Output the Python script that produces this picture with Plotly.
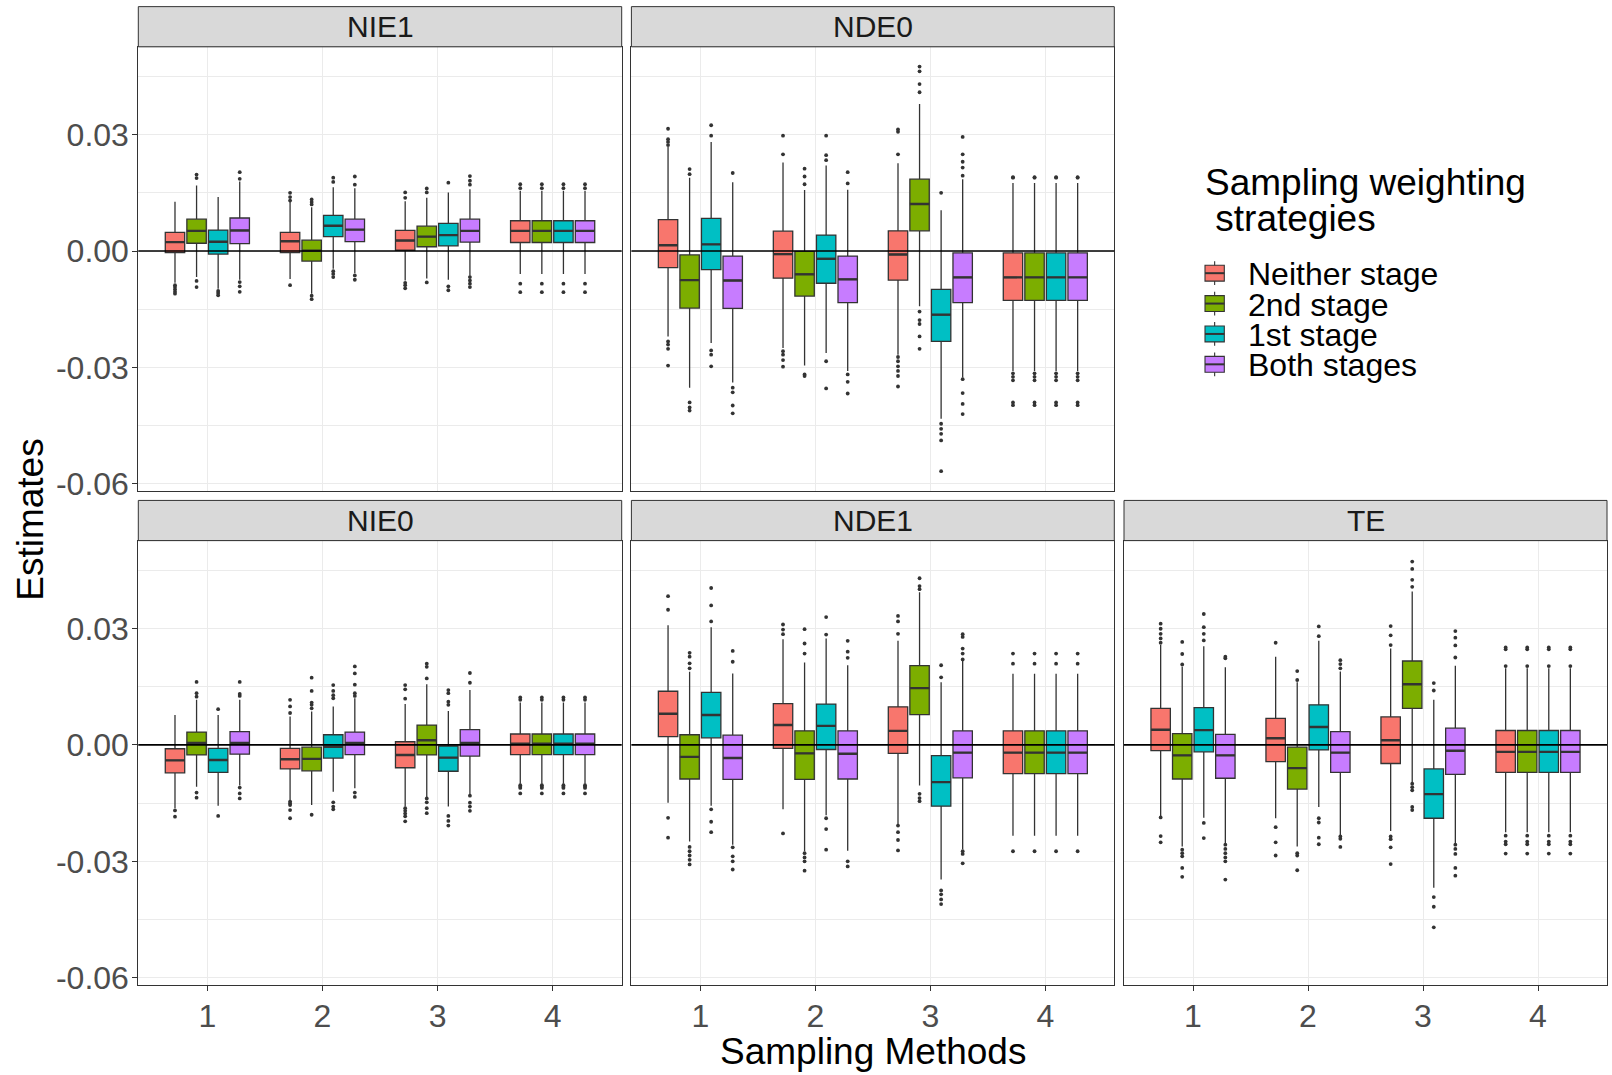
import plotly.graph_objects as go

W, H = 1612, 1075
FONT = "Liberation Sans, Arial, Helvetica, sans-serif"

# ---------------- categories / ticks ----------------
methods = [1, 2, 3, 4]
x_tick_text = ["1", "2", "3", "4"]
strategies = ["Neither stage", "2nd stage", "1st stage", "Both stages"]
fill_colors = ["#F8766D", "#7CAE00", "#00BFC4", "#C77CFF"]
effects = ["NIE1", "NDE0", "NIE0", "NDE1", "TE"]
y_tick_vals = [-0.06, -0.03, 0.00, 0.03]
y_tick_text = ["-0.06", "-0.03", "0.00", "0.03"]
y_minor_vals = [-0.045, -0.015, 0.015, 0.045]

# ---------------- data: rows = strategies, columns = methods 1..4 ----------------
# NIE1
NIE1_q1 = [[-0.0004, -0.0004, 0.0002, 0.0022], [0.0020, -0.0026, 0.0011, 0.0022],
           [-0.0008, 0.0037, 0.0013, 0.0022], [0.0019, 0.0024, 0.0023, 0.0022]]
NIE1_med = [[0.0023, 0.0025, 0.0027, 0.0052], [0.0052, 0.0001, 0.0037, 0.0052],
            [0.0024, 0.0065, 0.0041, 0.0052], [0.0053, 0.0055, 0.0052, 0.0052]]
NIE1_q3 = [[0.0048, 0.0048, 0.0053, 0.0078], [0.0082, 0.0028, 0.0064, 0.0078],
           [0.0054, 0.0092, 0.0071, 0.0078], [0.0085, 0.0082, 0.0082, 0.0078]]
NIE1_lo = [[-0.0082, -0.0072, -0.0076, -0.0059], [-0.0067, -0.0110, -0.0071, -0.0059],
           [-0.0097, -0.0046, -0.0074, -0.0059], [-0.0074, -0.0057, -0.0064, -0.0059]]
NIE1_hi = [[0.0127, 0.0127, 0.0128, 0.0155], [0.0169, 0.0113, 0.0137, 0.0155],
           [0.0139, 0.0164, 0.0151, 0.0155], [0.0179, 0.0162, 0.0159, 0.0155]]
NIE1_out = [
    [[-0.0088, -0.0093, -0.0099, -0.0105, -0.0110], [0.0130, 0.0139, 0.0150, -0.0088],
     [0.0137, 0.0151, -0.0082, -0.0088, -0.0096], [0.0162, 0.0172, -0.0084, -0.0106]],
    [[0.0188, 0.0197, -0.0077, -0.0093], [0.0120, 0.0126, 0.0133, -0.0115, -0.0124],
     [0.0151, 0.0161, -0.0081], [0.0162, 0.0172, -0.0084, -0.0106]],
    [[-0.0103, -0.0108, -0.0114], [0.0178, 0.0189, -0.0052, -0.0059, -0.0067],
     [0.0176, -0.0091, -0.0101], [0.0162, 0.0172, -0.0084, -0.0106]],
    [[0.0186, 0.0203, -0.0080, -0.0091, -0.0105], [0.0171, 0.0192, -0.0063, -0.0074],
     [0.0171, 0.0181, 0.0193, -0.0067, -0.0076, -0.0084, -0.0093], [0.0162, 0.0172, -0.0084, -0.0106]],
]

# NDE0
NDE0_q1 = [[-0.0043, -0.0070, -0.0075, -0.0127], [-0.0147, -0.0116, 0.0052, -0.0127],
           [-0.0048, -0.0083, -0.0233, -0.0127], [-0.0148, -0.0133, -0.0133, -0.0127]]
NDE0_med = [[0.0015, -0.0008, -0.0009, -0.0068], [-0.0075, -0.0060, 0.0121, -0.0068],
            [0.0017, -0.0020, -0.0164, -0.0068], [-0.0076, -0.0073, -0.0068, -0.0068]]
NDE0_q3 = [[0.0081, 0.0051, 0.0052, -0.0005], [-0.0010, -0.0001, 0.0185, -0.0005],
           [0.0084, 0.0041, -0.0099, -0.0005], [-0.0013, -0.0013, -0.0005, -0.0005]]
NDE0_lo = [[-0.0220, -0.0250, -0.0267, -0.0309], [-0.0352, -0.0295, -0.0142, -0.0309],
           [-0.0237, -0.0263, -0.0432, -0.0309], [-0.0339, -0.0309, -0.0326, -0.0309]]
NDE0_hi = [[0.0268, 0.0228, 0.0226, 0.0175], [0.0189, 0.0157, 0.0379, 0.0175],
           [0.0281, 0.0220, 0.0105, 0.0175], [0.0177, 0.0158, 0.0185, 0.0175]]
NDE0_out = [
    [[0.0273, 0.0281, 0.0288, 0.0315, -0.0233, -0.0241, -0.0252, -0.0295],
     [0.0249, 0.0297, -0.0258, -0.0267, -0.0281, -0.0298],
     [0.0249, 0.0307, 0.0313, -0.0273, -0.0284, -0.0297, -0.0309, -0.0322, -0.0349],
     [0.0189, 0.0190, -0.0315, -0.0324, -0.0333, -0.0390, -0.0397]],
    [[0.0198, 0.0211, -0.0390, -0.0403, -0.0411], [0.0172, 0.0192, 0.0212, -0.0318, -0.0322],
     [0.0409, 0.0430, 0.0463, 0.0475, -0.0156, -0.0178, -0.0188, -0.0220, -0.0252],
     [0.0189, 0.0190, -0.0315, -0.0324, -0.0333, -0.0390, -0.0397]],
    [[0.0297, 0.0324, -0.0256, -0.0267, -0.0297], [0.0234, 0.0247, 0.0297, -0.0284, -0.0354],
     [0.0150, -0.0445, -0.0458, -0.0471, -0.0488, -0.0567],
     [0.0189, 0.0190, -0.0315, -0.0324, -0.0333, -0.0390, -0.0397]],
    [[0.0201, -0.0352, -0.0364, -0.0398, -0.0418], [0.0174, 0.0203, -0.0318, -0.0337, -0.0367],
     [0.0194, 0.0215, 0.0230, 0.0249, 0.0294, -0.0330, -0.0366, -0.0394, -0.0420],
     [0.0189, 0.0190, -0.0315, -0.0324, -0.0333, -0.0390, -0.0397]],
]

# NIE0
NIE0_q1 = [[-0.0072, -0.0062, -0.0059, -0.0025], [-0.0026, -0.0067, -0.0026, -0.0025],
           [-0.0071, -0.0034, -0.0068, -0.0025], [-0.0024, -0.0025, -0.0029, -0.0025]]
NIE0_med = [[-0.0040, -0.0037, -0.0026, 0.0003], [0.0005, -0.0036, 0.0012, 0.0003],
            [-0.0039, -0.0005, -0.0033, 0.0003], [0.0005, 0.0005, 0.0005, 0.0003]]
NIE0_q3 = [[-0.0010, -0.0009, 0.0008, 0.0028], [0.0033, -0.0006, 0.0051, 0.0028],
           [-0.0009, 0.0026, -0.0003, 0.0028], [0.0034, 0.0033, 0.0039, 0.0028]]
NIE0_lo = [[-0.0163, -0.0142, -0.0159, -0.0100], [-0.0108, -0.0155, -0.0134, -0.0100],
           [-0.0157, -0.0121, -0.0159, -0.0100], [-0.0105, -0.0112, -0.0129, -0.0100]]
NIE0_hi = [[0.0077, 0.0073, 0.0105, 0.0109], [0.0116, 0.0086, 0.0156, 0.0109],
           [0.0077, 0.0099, 0.0087, 0.0109], [0.0116, 0.0120, 0.0141, 0.0109]]
NIE0_out = [
    [[-0.0169, -0.0185], [0.0082, 0.0099, 0.0116, -0.0146, -0.0151, -0.0155, -0.0168, -0.0189],
     [0.0119, 0.0143, 0.0154, -0.0163, -0.0170, -0.0177, -0.0184, -0.0197],
     [0.0116, 0.0122, -0.0104, -0.0108, -0.0111, -0.0125]],
    [[0.0124, 0.0133, 0.0162, -0.0123, -0.0136], [0.0094, 0.0103, 0.0109, 0.0139, 0.0173, -0.0180],
     [0.0171, 0.0201, 0.0209, -0.0138, -0.0148, -0.0163, -0.0176],
     [0.0116, 0.0122, -0.0104, -0.0108, -0.0111, -0.0125]],
    [[0.0092, -0.0183], [0.0120, 0.0128, 0.0139, 0.0154, -0.0148, -0.0159, -0.0166],
     [0.0103, 0.0111, 0.0133, 0.0141, -0.0183, -0.0196, -0.0208],
     [0.0116, 0.0122, -0.0104, -0.0108, -0.0111, -0.0125]],
    [[0.0126, 0.0131, 0.0162, -0.0110, -0.0125, -0.0138],
     [0.0126, 0.0133, 0.0155, 0.0184, 0.0202, -0.0123, -0.0134],
     [0.0160, 0.0185, -0.0131, -0.0149, -0.0159, -0.0170],
     [0.0116, 0.0122, -0.0104, -0.0108, -0.0111, -0.0125]],
]

# NDE1
NDE1_q1 = [[0.0021, -0.0009, -0.0022, -0.0074], [-0.0088, -0.0089, 0.0078, -0.0074],
           [0.0018, -0.0012, -0.0158, -0.0074], [-0.0089, -0.0088, -0.0085, -0.0074]]
NDE1_med = [[0.0080, 0.0051, 0.0036, -0.0020], [-0.0031, -0.0022, 0.0146, -0.0020],
            [0.0077, 0.0049, -0.0096, -0.0020], [-0.0034, -0.0023, -0.0020, -0.0020]]
NDE1_q3 = [[0.0138, 0.0106, 0.0098, 0.0036], [0.0026, 0.0036, 0.0204, 0.0036],
           [0.0135, 0.0105, -0.0028, 0.0036], [0.0025, 0.0036, 0.0036, 0.0036]]
NDE1_lo = [[-0.0149, -0.0166, -0.0206, -0.0234], [-0.0249, -0.0274, -0.0105, -0.0234],
           [-0.0157, -0.0181, -0.0347, -0.0234], [-0.0257, -0.0273, -0.0269, -0.0234]]
NDE1_hi = [[0.0308, 0.0272, 0.0268, 0.0183], [0.0188, 0.0212, 0.0393, 0.0183],
           [0.0303, 0.0274, 0.0161, 0.0183], [0.0184, 0.0205, 0.0217, 0.0183]]
NDE1_out = [
    [[0.0348, 0.0383, -0.0188, -0.0239], [0.0285, 0.0297, 0.0310, -0.0228],
     [0.0286, 0.0318, 0.0332, -0.0208, -0.0225, -0.0245, -0.0272], [0.0209, 0.0235, -0.0274]],
    [[0.0197, 0.0210, 0.0227, 0.0237, -0.0263, -0.0274, -0.0285, -0.0296, -0.0308],
     [0.0235, 0.0261, 0.0298, -0.0279, -0.0290, -0.0300, -0.0324],
     [0.0401, 0.0409, 0.0429, -0.0126, -0.0137, -0.0145], [0.0209, 0.0235, -0.0274]],
    [[0.0318, 0.0359, 0.0404, -0.0166, -0.0198, -0.0225], [0.0284, 0.0329, -0.0189, -0.0217, -0.0270],
     [0.0174, 0.0205, -0.0375, -0.0385, -0.0398, -0.0410], [0.0209, 0.0235, -0.0274]],
    [[0.0214, 0.0242, -0.0264, -0.0287, -0.0300, -0.0321], [0.0224, 0.0240, 0.0268, -0.0300, -0.0313],
     [0.0220, 0.0235, 0.0248, 0.0278, 0.0285, -0.0274, -0.0281, -0.0305], [0.0209, 0.0235, -0.0274]],
]

# TE
TE_q1 = [[-0.0015, -0.0043, -0.0048, -0.0071], [-0.0088, -0.0114, 0.0094, -0.0071],
         [-0.0018, -0.0013, -0.0189, -0.0071], [-0.0086, -0.0071, -0.0076, -0.0071]]
TE_med = [[0.0039, 0.0017, 0.0012, -0.0018], [-0.0027, -0.0060, 0.0156, -0.0018],
          [0.0038, 0.0046, -0.0127, -0.0018], [-0.0027, -0.0020, -0.0015, -0.0018]]
TE_q3 = [[0.0094, 0.0068, 0.0072, 0.0037], [0.0029, -0.0006, 0.0216, 0.0037],
         [0.0096, 0.0103, -0.0062, 0.0037], [0.0027, 0.0034, 0.0043, 0.0037]]
TE_lo = [[-0.0183, -0.0189, -0.0222, -0.0225], [-0.0262, -0.0262, -0.0096, -0.0225],
         [-0.0188, -0.0160, -0.0368, -0.0225], [-0.0253, -0.0234, -0.0253, -0.0225]]
TE_hi = [[0.0257, 0.0227, 0.0248, 0.0197], [0.0201, 0.0161, 0.0395, 0.0197],
         [0.0254, 0.0268, 0.0116, 0.0197], [0.0200, 0.0189, 0.0204, 0.0197]]
TE_out = [
    [[0.0263, 0.0274, 0.0286, 0.0299, 0.0312, -0.0187, -0.0235, -0.0251],
     [0.0263, -0.0212, -0.0251, -0.0285], [0.0257, 0.0282, 0.0306, -0.0236, -0.0243, -0.0264, -0.0307],
     [0.0203, 0.0246, 0.0251, -0.0234, -0.0249, -0.0256, -0.0280]],
    [[0.0207, 0.0234, 0.0265, -0.0270, -0.0279, -0.0287, -0.0317, -0.0340],
     [0.0167, 0.0190, -0.0279, -0.0285, -0.0323],
     [0.0407, 0.0425, 0.0453, 0.0472, -0.0100, -0.0109, -0.0117, -0.0160, -0.0168],
     [0.0203, 0.0246, 0.0251, -0.0234, -0.0249, -0.0256, -0.0280]],
    [[0.0269, 0.0286, 0.0303, 0.0337, -0.0201, -0.0240], [0.0280, 0.0305, -0.0189, -0.0200, -0.0239, -0.0256],
     [0.0140, 0.0159, -0.0392, -0.0417, -0.0470],
     [0.0203, 0.0246, 0.0251, -0.0234, -0.0249, -0.0256, -0.0280]],
    [[0.0223, 0.0227, -0.0257, -0.0268, -0.0279, -0.0290, -0.0300, -0.0347],
     [0.0197, 0.0208, 0.0218, -0.0236, -0.0242, -0.0263],
     [0.0225, 0.0256, 0.0276, 0.0293, -0.0257, -0.0268, -0.0281, -0.0317, -0.0337],
     [0.0203, 0.0246, 0.0251, -0.0234, -0.0249, -0.0256, -0.0280]],
]

data = {
    "NIE1": (NIE1_q1, NIE1_med, NIE1_q3, NIE1_lo, NIE1_hi, NIE1_out),
    "NDE0": (NDE0_q1, NDE0_med, NDE0_q3, NDE0_lo, NDE0_hi, NDE0_out),
    "NIE0": (NIE0_q1, NIE0_med, NIE0_q3, NIE0_lo, NIE0_hi, NIE0_out),
    "NDE1": (NDE1_q1, NDE1_med, NDE1_q3, NDE1_lo, NDE1_hi, NDE1_out),
    "TE": (TE_q1, TE_med, TE_q3, TE_lo, TE_hi, TE_out),
}

# ---------------- layout geometry (pixels) ----------------
col_x = [(138.3, 621.7), (631.4, 1114.3), (1124.0, 1607.0)]
row_plot_y = [(47.3, 496.0), (546.2, 995.0)]
row_strip_y = [(6.7, 47.3), (505.6, 546.2)]
panel_pos = {"NIE1": (0, 0), "NDE0": (0, 1), "NIE0": (1, 0), "NDE1": (1, 1), "TE": (1, 2)}
Y_RANGE = [-0.0618, 0.0526]
X_RANGE = [0.4, 4.6]
DODGE = 0.75
BOX_W = DODGE / 4 * 0.9

DARK = "#333333"
GRID = "#EBEBEB"


def px_x(x):
    return x / W


def px_y(y):
    return 1 - y / H


fig = go.Figure()
shapes = []
annotations = []
layout_axes = {}

for pi, eff in enumerate(effects):
    r, c = panel_pos[eff]
    sfx = "" if pi == 0 else str(pi + 1)
    xr, yr = "x" + sfx, "y" + sfx
    q1, med, q3, lo, hi, out = data[eff]
    for k, strat in enumerate(strategies):
        off = (k - 1.5) * DODGE / 4
        xs = [m + off for m in methods]
        fig.add_trace(go.Box(
            x=xs, q1=q1[k], median=med[k], q3=q3[k], lowerfence=lo[k], upperfence=hi[k],
            width=BOX_W, whiskerwidth=0, fillcolor=fill_colors[k],
            line=dict(color=DARK, width=1.3), boxpoints=False,
            xaxis=xr, yaxis=yr, name=strat, showlegend=False, hoverinfo="skip"))
        mx, my = [], []
        for j in range(len(methods)):
            mx += [xs[j] - BOX_W / 2, xs[j] + BOX_W / 2, None]
            my += [med[k][j], med[k][j], None]
        fig.add_trace(go.Scatter(x=mx, y=my, mode="lines", line=dict(color=DARK, width=2.4),
                                 xaxis=xr, yaxis=yr, showlegend=False, hoverinfo="skip"))
        ox, oy = [], []
        for j in range(len(methods)):
            for v in out[k][j]:
                ox.append(xs[j])
                oy.append(v)
        fig.add_trace(go.Scatter(x=ox, y=oy, mode="markers",
                                 marker=dict(size=3.8, color=DARK, line=dict(width=0)),
                                 xaxis=xr, yaxis=yr, showlegend=False, hoverinfo="skip"))

    x0, x1 = col_x[c]
    y0, y1 = row_plot_y[r]
    show_x = r == 1
    show_y = c == 0
    layout_axes["xaxis" + sfx] = dict(
        domain=[px_x(x0), px_x(x1)], range=X_RANGE, anchor=yr,
        tickmode="array", tickvals=methods, ticktext=x_tick_text,
        showticklabels=show_x, ticks="outside" if show_x else "", ticklen=5, tickwidth=1.1,
        tickcolor=DARK, showgrid=True, gridcolor=GRID, gridwidth=1.2,
        ticklabelstandoff=-2,
        showline=True, mirror=True, linecolor=DARK, linewidth=1, zeroline=False,
        tickfont=dict(size=32, color="#4D4D4D", family=FONT), fixedrange=True)
    layout_axes["yaxis" + sfx] = dict(
        domain=[px_y(y1), px_y(y0)], range=Y_RANGE, anchor=xr,
        tickmode="array", tickvals=y_tick_vals, ticktext=y_tick_text,
        showticklabels=show_y, ticks="outside" if show_y else "", ticklen=5, tickwidth=1.1,
        tickcolor=DARK, showgrid=True, gridcolor=GRID, gridwidth=1.2,
        ticklabelstandoff=-3,
        minor=dict(tickmode="array", tickvals=y_minor_vals, showgrid=True, gridcolor=GRID,
                   gridwidth=0.7, ticks=""),
        showline=True, mirror=True, linecolor=DARK, linewidth=1, zeroline=False,
        tickfont=dict(size=32, color="#4D4D4D", family=FONT), fixedrange=True)

    # zero reference line
    shapes.append(dict(type="line", xref=xr + " domain", yref=yr, x0=0, x1=1, y0=0, y1=0,
                       line=dict(color="black", width=1.6), layer="above"))
    # strip
    sy0, sy1 = row_strip_y[r]
    shapes.append(dict(type="rect", xref="paper", yref="paper",
                       x0=px_x(x0), x1=px_x(x1), y0=px_y(sy1), y1=px_y(sy0),
                       fillcolor="#D9D9D9", line=dict(color=DARK, width=1)))
    annotations.append(dict(text=eff, xref="paper", yref="paper",
                            x=px_x((x0 + x1) / 2), y=px_y((sy0 + sy1) / 2),
                            xanchor="center", yanchor="middle", showarrow=False,
                            font=dict(size=30, color="#1A1A1A", family=FONT)))

# axis titles
annotations.append(dict(text="Sampling Methods", xref="paper", yref="paper",
                        x=px_x((col_x[0][0] + col_x[2][1]) / 2), y=px_y(1062),
                        xanchor="center", yanchor="middle", showarrow=False,
                        font=dict(size=37, color="black", family=FONT)))
annotations.append(dict(text="Estimates", xref="paper", yref="paper",
                        x=px_x(31), y=px_y((row_plot_y[0][0] + row_plot_y[1][1]) / 2 + 4),
                        xanchor="center", yanchor="middle", showarrow=False, textangle=-90,
                        font=dict(size=37, color="black", family=FONT)))

# legend (drawn manually, ggplot style)
legend_title_lines = ["Sampling weighting", "\u00a0strategies"]
for i, line in enumerate(legend_title_lines):
    annotations.append(dict(text=line, xref="paper", yref="paper",
                            x=px_x(1203), y=px_y(184 + i * 36.7),
                            xanchor="left", yanchor="middle", showarrow=False,
                            font=dict(size=37, color="black", family=FONT)))
KEY_X0, KEY_X1 = 1205.0, 1224.3
for k, strat in enumerate(strategies):
    cy = 276.0 + k * 30.7
    cx = (KEY_X0 + KEY_X1) / 2
    shapes.append(dict(type="line", xref="paper", yref="paper", x0=px_x(cx), x1=px_x(cx),
                       y0=px_y(cy - 12), y1=px_y(cy + 12), line=dict(color=DARK, width=1.1)))
    shapes.append(dict(type="rect", xref="paper", yref="paper", x0=px_x(KEY_X0), x1=px_x(KEY_X1),
                       y0=px_y(cy + 8), y1=px_y(cy - 8), fillcolor=fill_colors[k],
                       line=dict(color=DARK, width=1.1)))
    shapes.append(dict(type="line", xref="paper", yref="paper", x0=px_x(KEY_X0), x1=px_x(KEY_X1),
                       y0=px_y(cy), y1=px_y(cy), line=dict(color=DARK, width=2)))
    annotations.append(dict(text=strat, xref="paper", yref="paper",
                            x=px_x(1246), y=px_y(cy + 1),
                            xanchor="left", yanchor="middle", showarrow=False,
                            font=dict(size=32, color="black", family=FONT)))

fig.update_layout(
    width=W, height=H, margin=dict(l=0, r=0, t=0, b=0),
    paper_bgcolor="white", plot_bgcolor="white",
    boxmode="overlay", showlegend=False,
    font=dict(family=FONT),
    shapes=shapes, annotations=annotations,
    **layout_axes,
)

fig.write_html(
    "out.html",
    config={"displayModeBar": False, "responsive": False},
    post_script="document.body.style.margin='0px';document.body.style.overflow='hidden';",
)
